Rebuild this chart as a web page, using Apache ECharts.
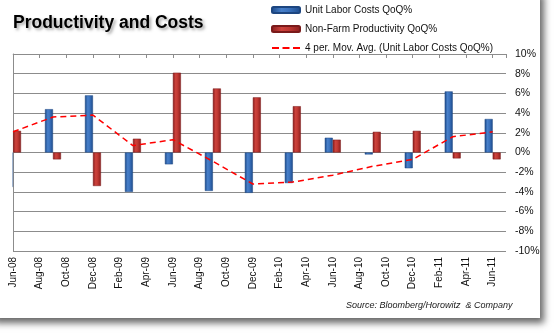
<!DOCTYPE html>
<html>
<head>
<meta charset="utf-8">
<script src="https://cdn.jsdelivr.net/npm/echarts@6/dist/echarts.min.js"></script>
<style>
html,body{margin:0;padding:0;background:#fff;}
#chart{width:556px;height:333px;}
</style>
</head>
<body>
<div id="chart"></div>
<script>
// Tick labels on the (monthly) date axis, every two months
const tickLabels = ['Jun-08','Aug-08','Oct-08','Dec-08','Feb-09','Apr-09','Jun-09','Aug-09','Oct-09','Dec-09','Feb-10','Apr-10','Jun-10','Aug-10','Oct-10','Dec-10','Feb-11','Apr-11','Jun-11'];
// Quarterly observation dates
const quarters = ['Jun-08','Sep-08','Dec-08','Mar-09','Jun-09','Sep-09','Dec-09','Mar-10','Jun-10','Sep-10','Dec-10','Mar-11','Jun-11'];
// Series values (%)
const unitLaborCosts = [-3.5, 4.4, 5.8, -4.0, -1.2, -3.9, -4.1, -3.1, 1.5, -0.2, -1.6, 6.2, 3.4];
const productivity   = [2.2, -0.7, -3.4, 1.4, 8.1, 6.5, 5.6, 4.7, 1.3, 2.1, 2.2, -0.6, -0.7];
const movAvg         = [2.1, 3.6, 3.8, 0.7, 1.3, -0.9, -3.2, -3.0, -2.3, -1.4, -0.7, 1.6, 2.1];
const yTicks = [-10, 10, 2];

const monthNames = ['Jan','Feb','Mar','Apr','May','Jun','Jul','Aug','Sep','Oct','Nov','Dec'];
function monthIndex(lbl) {
  const m = monthNames.indexOf(lbl.slice(0,3));
  const y = 2000 + parseInt(lbl.slice(4), 10);
  return (y - 2008) * 12 + (m - 5);
}
const xs = quarters.map(monthIndex);
const pair = (vals) => vals.map((v, i) => [xs[i], v]);

const blueGrad = new echarts.graphic.LinearGradient(0, 0, 1, 0, [
  {offset: 0, color: '#1b4886'}, {offset: 0.35, color: '#4880ca'},
  {offset: 0.6, color: '#3b72bd'}, {offset: 1, color: '#1c4a8a'}]);
const redGrad = new echarts.graphic.LinearGradient(0, 0, 1, 0, [
  {offset: 0, color: '#861b1b'}, {offset: 0.35, color: '#cd433d'},
  {offset: 0.6, color: '#bf3832'}, {offset: 1, color: '#891d1d'}]);

const chart = echarts.init(document.getElementById('chart'), null, {renderer: 'canvas'});
const gridColor = '#8c8c8c';
const font = 'Liberation Sans';
chart.setOption({
  animation: false,
  backgroundColor: 'transparent',
  graphic: [
    {type: 'rect', z: -10, silent: true,
     shape: {x: -10, y: -10, width: 550, height: 328},
     style: {fill: '#ffffff', shadowBlur: 7, shadowOffsetX: 4, shadowOffsetY: 5, shadowColor: 'rgba(0,0,0,0.6)'}},
    // mask for the part of the first bar pair that falls left of the plot area
    {type: 'rect', z: 100, silent: true,
     shape: {x: 0, y: 45, width: 12.5, height: 208},
     style: {fill: '#ffffff'}},
    {type: 'text', left: 346, top: 301, silent: true,
     style: {text: 'Source: Bloomberg/Horowitz  & Company', font: 'italic 9px "Liberation Sans"', fill: '#1a1a1a'}}
  ],
  title: {
    text: 'Productivity and Costs', left: 8, top: 9,
    textStyle: {fontFamily: font, fontWeight: 'bold', fontSize: 17.5, color: '#000',
      textShadowColor: 'rgba(0,0,0,0.35)', textShadowBlur: 3, textShadowOffsetX: 2, textShadowOffsetY: 2}
  },
  legend: {
    orient: 'vertical', left: 266, top: 0, itemWidth: 28, itemHeight: 6, itemGap: 9,
    textStyle: {fontFamily: font, fontSize: 10, color: '#111'},
    data: [
      {name: 'Unit Labor Costs QoQ%'},
      {name: 'Non-Farm Productivity QoQ%'},
      {name: '4 per. Mov. Avg. (Unit Labor Costs QoQ%)',
       icon: 'path://M0,0H7V2H0Z M10.5,0H17.5V2H10.5Z M21,0H28V2H21Z'}
    ]
  },
  grid: {left: 13, right: 50, top: 54, bottom: 82},
  xAxis: [
    {type: 'value', position: 'bottom', min: 0, max: 37, interval: 2,
     axisLine: {show: false}, axisTick: {show: false}, splitLine: {show: false},
     axisLabel: {rotate: 90, margin: 6, fontFamily: font, fontSize: 10, color: '#111', showMaxLabel: false,
       formatter: v => (v % 2 === 0 && v / 2 < tickLabels.length) ? tickLabels[v / 2] : ''}},
    {type: 'value', position: 'top', min: 0, max: 37, interval: 2,
     axisLine: {show: true, onZero: true, lineStyle: {color: gridColor, width: 1}},
     axisTick: {show: true, inside: true, length: 4, lineStyle: {color: gridColor}},
     axisLabel: {show: false}, splitLine: {show: false}}
  ],
  yAxis: {
    type: 'value', position: 'right', min: yTicks[0], max: yTicks[1], interval: yTicks[2],
    axisLine: {show: true, lineStyle: {color: gridColor}},
    axisTick: {show: true, length: 4, lineStyle: {color: gridColor}},
    splitLine: {show: true, lineStyle: {color: gridColor, width: 1}},
    axisLabel: {margin: 9, fontFamily: font, fontSize: 10.5, color: '#111', formatter: v => v + '%'}
  },
  series: [
    {name: 'Unit Labor Costs QoQ%', type: 'bar', xAxisIndex: 0, barWidth: 8, barGap: '0%',
     data: pair(unitLaborCosts), clip: true,
     itemStyle: {color: blueGrad, borderColor: '#1d4680', borderWidth: 0.5}},
    {name: 'Non-Farm Productivity QoQ%', type: 'bar', xAxisIndex: 0, barWidth: 8, barGap: '0%',
     data: pair(productivity), clip: true,
     itemStyle: {color: redGrad, borderColor: '#7a1a1a', borderWidth: 0.5}},
    {name: '4 per. Mov. Avg. (Unit Labor Costs QoQ%)', type: 'line', xAxisIndex: 0, z: 5,
     data: pair(movAvg), symbol: 'none', itemStyle: {color: '#ff0000'},
     lineStyle: {color: '#ff0000', width: 1.5, type: [6, 4]}}
  ]
});
</script>
</body>
</html>
